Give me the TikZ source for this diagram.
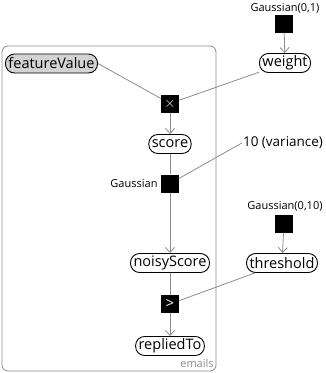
\documentclass[tikz,border=0pt]{standalone}
\usepackage{fontspec}
\setmainfont{Open Sans}
\usetikzlibrary{arrows.meta}
\definecolor{edgegray}{HTML}{8C8C8C}
\definecolor{obsgray}{HTML}{D3D3D3}
\begin{document}
\begin{tikzpicture}[x=1pt,y=-1pt,
  var/.style={draw=black,line width=0.9pt,rounded corners=9pt,minimum height=19pt,inner xsep=3pt,inner ysep=0pt,font=\fontsize{14.5}{16}\selectfont,fill=white},
  obs/.style={var,fill=obsgray},
  factor/.style={fill=black,minimum size=18pt,inner sep=0pt,text=white,font=\fontsize{15}{16}\selectfont},
  flabel/.style={font=\fontsize{11}{12}\selectfont,inner sep=0pt},
  edge/.style={draw=edgegray,line width=0.8pt},
  arr/.style={edge,-{Straight Barb[length=5pt,width=9pt,line width=0.8pt]}}]
\useasboundingbox (0,0) rectangle (325,373);
% plate
\draw[edgegray,line width=0.8pt,rounded corners=6pt] (2,46) rectangle (216,371);
\node[flabel,text=edgegray] (platelabel) at (197,363) {emails};
% nodes
\node[obs] (fv) at (51.5,63.5) {featureValue};
\node[var] (w) at (285,63) {weight};
\node[factor] (g1) at (284,23.5) {};
\node[flabel] (g1l) at (285,8) {Gaussian(0,1)};
\node[factor] (mul) at (170,103.5) {\fontsize{15}{16}\selectfont$\times$};
\node[var] (score) at (170,144) {score};
\node[factor] (g) at (170,183.5) {};
\node[flabel] (gl) at (134,184) {Gaussian};
\node[inner sep=1pt,font=\fontsize{13.5}{14}\selectfont] (var) at (283,143) {10 (variance)};
\node[flabel] (g2l) at (285,206) {Gaussian(0,10)};
\node[factor] (g2) at (284,223.5) {};
\node[var] (ns) at (170,263) {noisyScore};
\node[var] (th) at (282,263) {threshold};
\node[factor] (gt) at (170,304) {>};
\node[var] (rt) at (170,346) {repliedTo};
% edges
\draw[arr] (g1) -- (w);
\draw[edge] (fv.east) -- (mul);
\draw[edge] (w) -- (mul);
\draw[arr] (mul) -- (score);
\draw[edge] (score) -- (g);
\draw[edge] (var.west) -- (g);
\draw[arr] (g) -- (ns);
\draw[arr] (g2) -- (th);
\draw[edge] (ns) -- (gt);
\draw[edge] (th) -- (gt);
\draw[arr] (gt) -- (rt);
\end{tikzpicture}
\end{document}
